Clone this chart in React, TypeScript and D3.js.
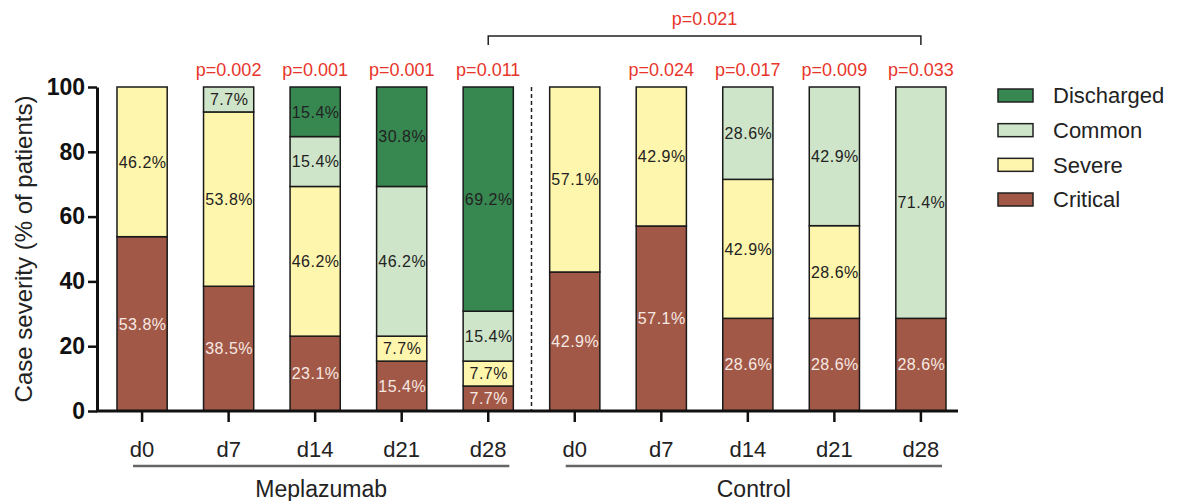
import React, { useEffect, useRef } from "react";
import * as d3 from "d3";

const days = ["d0", "d7", "d14", "d21", "d28"];
const groups = ["Meplazumab", "Control"];
const severities = ["Critical", "Severe", "Common", "Discharged"];
const colors = ["#a25846", "#fff6ad", "#cfe5c9", "#378751"];

// percent of patients per bar, Meplazumab d0..d28 then Control d0..d28
const critical = [53.8, 38.5, 23.1, 15.4, 7.7, 42.9, 57.1, 28.6, 28.6, 28.6];
const severe = [46.2, 53.8, 46.2, 7.7, 7.7, 57.1, 42.9, 42.9, 28.6, 0];
const common = [0, 7.7, 15.4, 46.2, 15.4, 0, 0, 28.6, 42.9, 71.4];
const discharged = [0, 0, 15.4, 30.8, 69.2, 0, 0, 0, 0, 0];
const pValues = ["", "p=0.002", "p=0.001", "p=0.001", "p=0.011", "", "p=0.024", "p=0.017", "p=0.009", "p=0.033"];
const bracketP = "p=0.021";
const yTicks = [0, 20, 40, 60, 80, 100];

const font = "'Liberation Sans', Arial, sans-serif";

const App = () => {
  const svgRef = useRef<SVGSVGElement>(null);

  useEffect(() => {
    const width = 1180, height = 501;
    const svg = d3.select(svgRef.current)
      .attr("width", width)
      .attr("height", height)
      .style("font-family", font);
    svg.selectAll("*").remove();

    const keys = groups.flatMap(g => days.map(d => `${g}-${d}`));
    const rows = keys.map((k, i) => ({
      key: k,
      Critical: critical[i],
      Severe: severe[i],
      Common: common[i],
      Discharged: discharged[i],
    }));

    const x = d3.scaleBand().domain(keys).range([117, 946]).paddingInner(0.42).paddingOuter(0);
    const y = d3.scaleLinear().domain([0, 100]).range([411, 87]);
    const color = d3.scaleOrdinal<string, string>().domain(severities).range(colors);

    const stacked = d3.stack<any>().keys(severities)(rows);

    const layers = svg.append("g").selectAll("g")
      .data(stacked)
      .enter().append("g")
      .attr("fill", d => color(d.key));

    layers.selectAll("rect")
      .data(d => d.filter(s => s[1] - s[0] > 0))
      .enter().append("rect")
      .attr("x", d => x(d.data.key)!)
      .attr("y", d => y(Math.min(100, d[1])))
      .attr("width", x.bandwidth())
      .attr("height", d => y(d[0]) - y(Math.min(100, d[1])))
      .attr("stroke", "#1a1a1a")
      .attr("stroke-width", 1.5);

    // segment labels
    stacked.forEach(layer => {
      svg.append("g").selectAll("text")
        .data(layer.filter(s => s[1] - s[0] > 0))
        .enter().append("text")
        .attr("x", d => x(d.data.key)! + x.bandwidth() / 2 + 0.5)
        .attr("y", d => y((d[0] + Math.min(100, d[1])) / 2))
        .attr("dy", "0.36em")
        .attr("text-anchor", "middle")
        .attr("font-size", 16)
        .attr("letter-spacing", 0.5)
        .attr("fill", layer.key === "Critical" ? "#f6e9e4" : "#222")
        .text(d => `${(d[1] - d[0]).toFixed(1)}%`);
    });

    // dashed separator
    const sepX = (x(`${groups[0]}-d28`)! + x.bandwidth() + x(`${groups[1]}-d0`)!) / 2;
    svg.append("line")
      .attr("x1", sepX).attr("x2", sepX)
      .attr("y1", y(100)).attr("y2", y(0))
      .attr("stroke", "#222")
      .attr("stroke-width", 1.5)
      .attr("stroke-dasharray", "4,3");

    // y axis
    const yAxis = svg.append("g")
      .attr("transform", "translate(97,0)")
      .call(d3.axisLeft(y).tickValues(yTicks).tickSize(9).tickSizeOuter(0).tickPadding(3));
    yAxis.select(".domain").attr("stroke-width", 3).attr("stroke", "#111");
    yAxis.selectAll(".tick line").attr("stroke-width", 2.5).attr("stroke", "#111");
    yAxis.selectAll(".tick text")
      .attr("font-size", 23)
      .attr("font-weight", "bold")
      .attr("font-family", font)
      .attr("fill", "#111");

    // x axis
    const xAxis = svg.append("g")
      .attr("transform", `translate(0,${y(0)})`)
      .call(d3.axisBottom(x).tickSize(11).tickPadding(19).tickFormat(k => k.split("-")[1]));
    xAxis.select(".domain").remove();
    xAxis.selectAll(".tick line").attr("stroke-width", 2.5).attr("stroke", "#111");
    xAxis.selectAll(".tick text")
      .attr("font-size", 22)
      .attr("font-family", font)
      .attr("fill", "#222");
    svg.append("line")
      .attr("x1", 96).attr("x2", 958)
      .attr("y1", y(0)).attr("y2", y(0))
      .attr("stroke", "#111")
      .attr("stroke-width", 3);

    // group underlines + labels
    groups.forEach(g => {
      const x0 = x(`${g}-d0`)! + 16;
      const x1 = x(`${g}-d28`)! + x.bandwidth() - 4;
      svg.append("line")
        .attr("x1", x0).attr("x2", x1)
        .attr("y1", 466).attr("y2", 466)
        .attr("stroke", "#666")
        .attr("stroke-width", 2.5);
      svg.append("text")
        .attr("x", (x0 + x1) / 2)
        .attr("y", 497)
        .attr("text-anchor", "middle")
        .attr("font-size", 23)
        .attr("fill", "#222")
        .text(g);
    });

    // y title
    svg.append("text")
      .attr("transform", "rotate(-90)")
      .attr("x", -y(50))
      .attr("y", 32)
      .attr("text-anchor", "middle")
      .attr("font-size", 24)
      .attr("fill", "#222")
      .text("Case severity (% of patients)");

    // p-values
    svg.append("g").selectAll("text")
      .data(keys.filter((k, i) => pValues[i] !== ""))
      .enter().append("text")
      .attr("x", k => x(k)! + x.bandwidth() / 2)
      .attr("y", 76)
      .attr("text-anchor", "middle")
      .attr("font-size", 18)
      .attr("fill", "#e8352b")
      .text(k => pValues[keys.indexOf(k)]);

    // bracket
    const bx0 = x(`${groups[0]}-d28`)! + x.bandwidth() / 2;
    const bx1 = x(`${groups[1]}-d28`)! + x.bandwidth() / 2;
    svg.append("path")
      .attr("d", `M${bx0},45V36H${bx1}V45`)
      .attr("fill", "none")
      .attr("stroke", "#222")
      .attr("stroke-width", 1.5);
    svg.append("text")
      .attr("x", (bx0 + bx1) / 2)
      .attr("y", 25)
      .attr("text-anchor", "middle")
      .attr("font-size", 18)
      .attr("fill", "#e8352b")
      .text(bracketP);

    // legend
    const legendOrder = [...severities].reverse();
    const ly = d3.scalePoint().domain(legendOrder).range([95.5, 199.5]);
    const legend = svg.append("g").selectAll("g")
      .data(legendOrder)
      .enter().append("g")
      .attr("transform", d => `translate(998,${ly(d)})`);
    legend.append("rect")
      .attr("x", 0).attr("y", -6.5)
      .attr("width", 35).attr("height", 13)
      .attr("fill", d => color(d))
      .attr("stroke", "#222")
      .attr("stroke-width", 1.5);
    legend.append("text")
      .attr("x", 55)
      .attr("dy", "0.36em")
      .attr("font-size", 22)
      .attr("fill", "#222")
      .text(d => d);
  }, []);

  return <svg ref={svgRef} style={{ position: "absolute", left: 0, top: 0 }}></svg>;
};

export default App;
